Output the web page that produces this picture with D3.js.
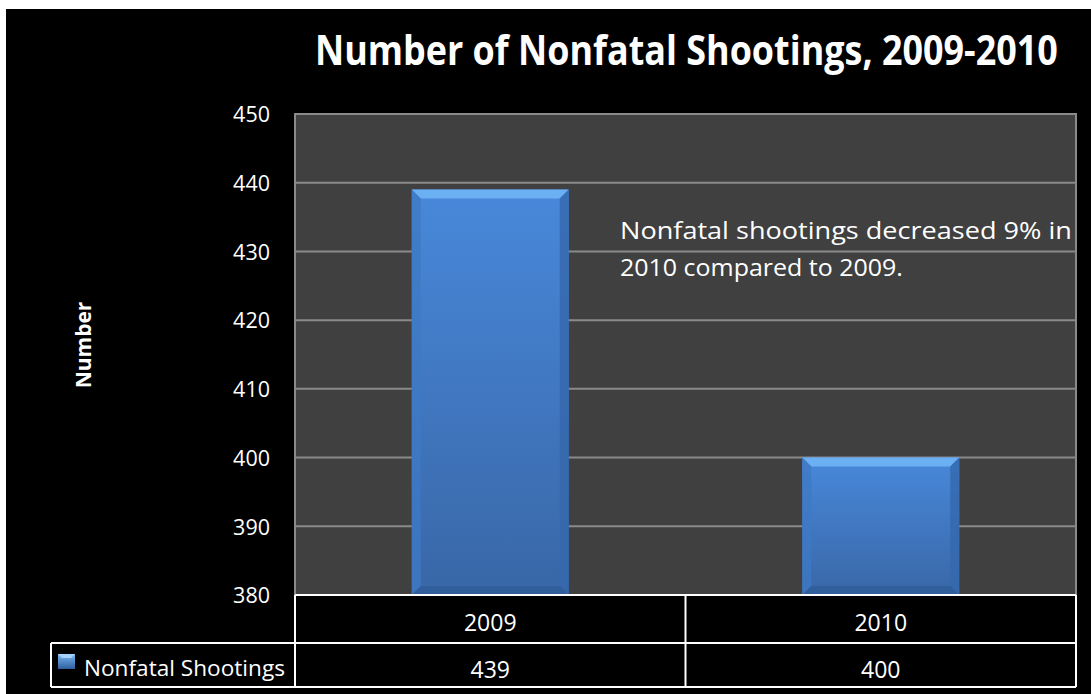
<!DOCTYPE html>
<html><head><meta charset="utf-8">
<script src="https://cdnjs.cloudflare.com/ajax/libs/d3/7.8.5/d3.min.js"></script>
<style>html,body{margin:0;padding:0;background:#fff;}svg{display:block;}</style>
</head><body>
<script>
const categories = ["2009", "2010"];
const values = [439, 400];
const seriesName = "Nonfatal Shootings";
const yTicks = [380, 390, 400, 410, 420, 430, 440, 450];
const titleText = "Number of Nonfatal Shootings, 2009-2010";
const yTitle = "Number";
const noteLines = ["Nonfatal shootings decreased 9% in", "2010 compared to 2009."];

const W = 1091, H = 694;
const svg = d3.select("body").append("svg").attr("width", W).attr("height", H);
const font = "'Open Sans', 'Noto Sans', sans-serif";

// fit a text horizontally to a target width by scaling it along x
function fitText(sel, x0, y0, width) {
  const w = sel.node().getComputedTextLength();
  const k = width / w;
  sel.attr("x", 0).attr("y", 0).attr("transform", `translate(${x0},${y0}) scale(${k},1)`);
}

svg.append("rect").attr("width", W).attr("height", H).attr("fill", "#fff");
svg.append("rect").attr("x", 6).attr("y", 9).attr("width", W - 6).attr("height", H - 9).attr("fill", "#000");

const plot = {l: 295, r: 1076, t: 114, b: 595};
const y = d3.scaleLinear().domain([380, 450]).range([plot.b, plot.t]);
const x = d3.scaleBand().domain(categories).range([plot.l, plot.r]).paddingInner(0.598).paddingOuter(0.299);
const colX = d3.scaleBand().domain(categories).range([plot.l, plot.r]).padding(0);

// defs
const defs = svg.append("defs");
const g1 = defs.append("linearGradient").attr("id", "barGrad").attr("x1", 0).attr("y1", 0).attr("x2", 0).attr("y2", 1);
g1.append("stop").attr("offset", "0%").attr("stop-color", "#4888da");
g1.append("stop").attr("offset", "100%").attr("stop-color", "#3967a7");
const g2 = defs.append("linearGradient").attr("id", "keyGrad").attr("x1", 0).attr("y1", 0).attr("x2", 0).attr("y2", 1);
g2.append("stop").attr("offset", "0%").attr("stop-color", "#7ab8f5");
g2.append("stop").attr("offset", "100%").attr("stop-color", "#2f5e9e");

// plot area
svg.append("rect").attr("x", plot.l).attr("y", plot.t).attr("width", plot.r - plot.l).attr("height", plot.b - plot.t)
  .attr("fill", "#404040").attr("stroke", "#8a8a8a").attr("stroke-width", 2);

// grid
svg.append("g").selectAll("line").data(yTicks.slice(1)).join("line")
  .attr("x1", plot.l).attr("x2", plot.r).attr("y1", d => y(d)).attr("y2", d => y(d))
  .attr("stroke", "#8a8a8a").attr("stroke-width", 2);

// y axis labels
const yAxis = d3.axisLeft(y).tickValues(yTicks).tickSize(0).tickPadding(25);
const ya = svg.append("g").attr("transform", `translate(${plot.l},0)`).call(yAxis);
ya.select(".domain").remove();
ya.selectAll("text").attr("fill", "#fff").attr("font-family", font).attr("font-size", 21.5).attr("dy", "0.36em");

// bars
const bars = svg.append("g").selectAll("g").data(categories.map((c, i) => ({c, v: values[i]}))).join("g");
bars.append("rect").attr("x", d => x(d.c)).attr("y", d => y(d.v)).attr("width", x.bandwidth())
  .attr("height", d => y(380) - y(d.v)).attr("fill", "url(#barGrad)");
const bev = 9;
bars.append("path").attr("d", d => {
  const x0 = x(d.c), x1 = x0 + x.bandwidth(), y0 = y(d.v);
  return `M${x0},${y0}L${x1},${y0}L${x1 - bev},${y0 + bev}L${x0 + bev},${y0 + bev}Z`;
}).attr("fill", "#6cb0f4");
bars.append("path").attr("d", d => {
  const x0 = x(d.c), y0 = y(d.v), y1 = y(380);
  return `M${x0},${y0}L${x0 + bev},${y0 + bev}L${x0 + bev},${y1 - bev}L${x0},${y1}Z`;
}).attr("fill", "#3f79c4").attr("opacity", 0.8);
bars.append("path").attr("d", d => {
  const x1 = x(d.c) + x.bandwidth(), y0 = y(d.v), y1 = y(380);
  return `M${x1},${y0}L${x1 - bev},${y0 + bev}L${x1 - bev},${y1 - bev}L${x1},${y1}Z`;
}).attr("fill", "#3568ac").attr("opacity", 0.8);
bars.append("path").attr("d", d => {
  const x0 = x(d.c), x1 = x0 + x.bandwidth(), y1 = y(380);
  return `M${x0},${y1}L${x0 + bev},${y1 - bev}L${x1 - bev},${y1 - bev}L${x1},${y1}Z`;
}).attr("fill", "#2f5c99").attr("opacity", 0.8);

// title
const title = svg.append("text").attr("fill", "#fff").attr("font-family", font)
  .attr("font-weight", "bold").attr("font-size", 41).text(titleText);
fitText(title, 315, 65, 743);

// y title
svg.append("text").attr("transform", "translate(91,345) rotate(-90)").attr("text-anchor", "middle")
  .attr("fill", "#fff").attr("font-family", font).attr("font-weight", "bold").attr("font-size", 21)
  .text(yTitle);

// annotation
const noteLens = [452, 283];
noteLines.forEach((t, i) => {
  const nt = svg.append("text").attr("fill", "#fff").attr("font-family", font).attr("font-size", 24).text(t);
  fitText(nt, 620, 239 + i * 37, noteLens[i]);
});

// data table
const rowTop = plot.b, rowMid = 643, rowBot = 687, legL = 51;
const tbl = svg.append("g").attr("stroke", "#fff").attr("stroke-width", 2);
tbl.append("line").attr("x1", plot.l).attr("x2", plot.r).attr("y1", rowTop).attr("y2", rowTop);
tbl.append("line").attr("x1", legL).attr("x2", plot.r).attr("y1", rowMid).attr("y2", rowMid);
tbl.append("line").attr("x1", legL).attr("x2", plot.r).attr("y1", rowBot).attr("y2", rowBot);
tbl.append("line").attr("x1", legL).attr("x2", legL).attr("y1", rowMid).attr("y2", rowBot);
const colEdges = categories.map(c => colX(c)).concat([plot.r]);
tbl.selectAll("line.v").data(colEdges).join("line").attr("class", "v")
  .attr("x1", d => d).attr("x2", d => d).attr("y1", rowTop).attr("y2", rowBot);

svg.append("g").selectAll("text").data(categories).join("text")
  .attr("x", d => colX(d) + colX.bandwidth() / 2).attr("y", 631).attr("text-anchor", "middle")
  .attr("fill", "#fff").attr("font-family", font).attr("font-size", 23).text(d => d);
svg.append("g").selectAll("text").data(values).join("text")
  .attr("x", (d, i) => colX(categories[i]) + colX.bandwidth() / 2).attr("y", 678).attr("text-anchor", "middle")
  .attr("fill", "#fff").attr("font-family", font).attr("font-size", 23).text(d => d);

// legend key + label
svg.append("rect").attr("x", 58).attr("y", 654).attr("width", 17).attr("height", 15).attr("fill", "url(#keyGrad)");
svg.append("path").attr("d", "M58,654L75,654L71,658L62,658Z").attr("fill", "#a6d2ff");
const lg = svg.append("text").attr("fill", "#fff").attr("font-family", font).attr("font-size", 22.5).text(seriesName);
fitText(lg, 84, 676, 201);
</script>
</body></html>
